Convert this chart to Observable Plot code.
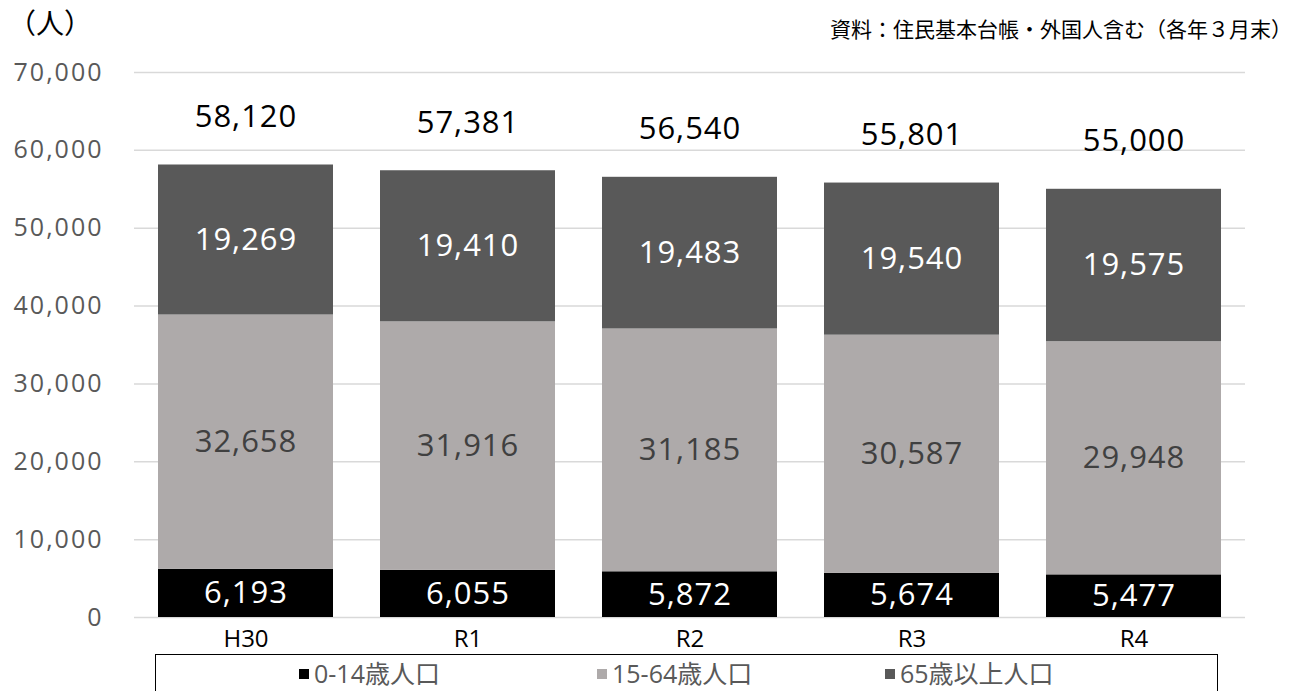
<!DOCTYPE html>
<html><head><meta charset="utf-8">
<script src="https://cdn.jsdelivr.net/npm/d3@7"></script>
<script src="https://cdn.jsdelivr.net/npm/@observablehq/plot@0.6"></script>
<style>
body{margin:0;background:#fff;font-family:"Open Sans","Noto Sans CJK JP",sans-serif;}
#wrap{position:relative;width:1302px;height:691px;overflow:hidden;}
#unit{position:absolute;left:8px;top:2px;font-size:28px;color:#000;font-family:"Noto Sans CJK JP",sans-serif;}
#src{position:absolute;right:10px;top:13px;font-size:21px;color:#000;font-family:"Noto Sans CJK JP",sans-serif;}
#chart{position:absolute;left:0;top:0;}
#legend{position:absolute;left:155px;top:654px;width:1063px;height:50px;border:1.5px solid #000;box-sizing:border-box;font-size:25px;color:#595959;font-family:"Open Sans","Noto Sans CJK JP",sans-serif;}
.li{position:absolute;top:-1px;white-space:nowrap;}
.sw{display:inline-block;width:10px;height:10px;margin-right:5px;vertical-align:middle;position:relative;top:-2px;}
</style></head>
<body>
<div id="wrap">
<div id="chart"></div>
<div id="unit">（人）</div>
<div id="src">資料：住民基本台帳・外国人含む（各年３月末）</div>
<div id="legend"></div>
</div>
<script>
const years = ["H30","R1","R2","R3","R4"];
const series = ["0-14歳人口","15-64歳人口","65歳以上人口"];
const young = [6193,6055,5872,5674,5477];
const working = [32658,31916,31185,30587,29948];
const elderly = [19269,19410,19483,19540,19575];
const totals = [58120,57381,56540,55801,55000];
const yTicks = [0,10000,20000,30000,40000,50000,60000,70000];
const colors = ["#000000","#AEAAAA","#595959"];
const labelColors = ["#ffffff","#404040","#ffffff"];

const values = [young, working, elderly];
const rows = [];
years.forEach((yr, i) => {
  let base = 0;
  series.forEach((s, k) => {
    const v = values[k][i];
    rows.push({year: yr, series: s, value: v, mid: base + v / 2, lc: labelColors[k]});
    base += v;
  });
});
const totalRows = years.map((yr, i) => ({year: yr, total: totals[i]}));
const fmt = d3.format(",");

const chart = Plot.plot({
  width: 1302,
  height: 660,
  marginTop: 72,
  marginBottom: 43,
  marginLeft: 134,
  marginRight: 57,
  style: {fontFamily: '"Open Sans","Noto Sans CJK JP",sans-serif', background: "transparent"},
  x: {domain: years, paddingInner: 0.21, paddingOuter: 0.106, label: null, tickSize: 0, tickPadding: 13},
  y: {domain: [0, 70000], ticks: yTicks, tickFormat: fmt, label: null, tickSize: 0, tickPadding: 31},
  color: {domain: series, range: colors},
  marks: [
    Plot.gridY(yTicks, {stroke: "#d9d9d9", strokeOpacity: 1, strokeWidth: 1.5}),
    Plot.barY(rows, Plot.stackY({x: "year", y: "value", fill: "series", order: series})),
    Plot.text(rows, {x: "year", y: "mid", text: d => fmt(d.value), fill: "lc", fontSize: 31}),
    Plot.text(totalRows, {x: "year", y: "total", text: d => fmt(d.total), dy: -48, fill: "#000", fontSize: 31}),
    Plot.axisY({ticks: yTicks, tickFormat: fmt, tickSize: 0, tickPadding: 31, fontSize: 25, color: "#595959", label: null}),
    Plot.axisX({tickSize: 0, tickPadding: 12, fontSize: 24, color: "#000", label: null})
  ]
});
// widen digit spacing a little to match the reference face
chart.querySelectorAll("g[aria-label='y-axis tick label'] text").forEach(t => t.setAttribute("letter-spacing", "2"));
chart.querySelectorAll("g[aria-label='text'] text").forEach(t => t.setAttribute("letter-spacing", "1"));
document.getElementById("chart").appendChild(chart);

const lg = document.getElementById("legend");
const lx = [143, 441, 729];
series.forEach((s, k) => {
  const d = document.createElement("div");
  d.className = "li";
  d.style.left = lx[k] + "px";
  d.innerHTML = `<span class="sw" style="background:${colors[k]}"></span>${s}`;
  lg.appendChild(d);
});
</script>
</body></html>
